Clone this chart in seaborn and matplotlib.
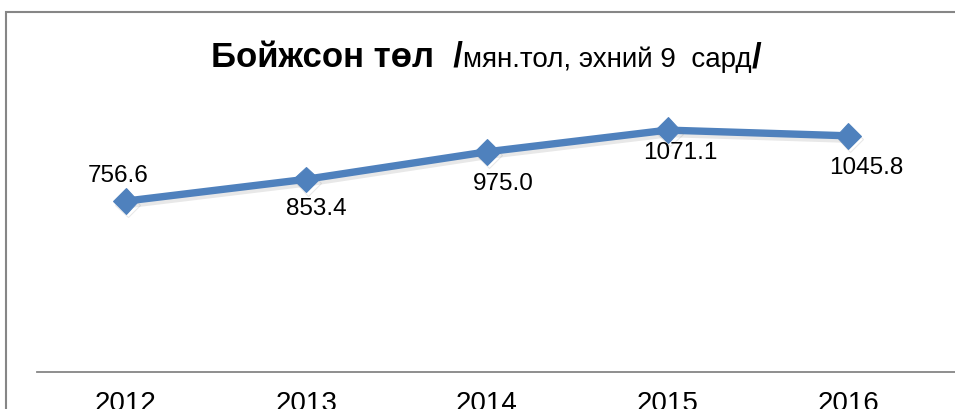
import matplotlib
matplotlib.use("Agg")
import matplotlib.pyplot as plt
import matplotlib.patheffects as pe
from matplotlib.patches import Rectangle
import seaborn as sns
import pandas as pd

# ____________________ данные ____________________
years = ["2012", "2013", "2014", "2015", "2016"]
values = [756.6, 853.4, 975.0, 1071.1, 1045.8]
value_labels = ["756.6", "853.4", "975.0", "1071.1", "1045.8"]

# смещения подписей (пиксели) относительно маркера
label_offsets = [(-7, 25), (10, -30), (16, -32), (13, -23), (18, -32)]

sns.set_theme(style="white")
plt.rcParams['font.family'] = ['Liberation Sans', 'DejaVu Sans']
plt.rcParams['text.color'] = 'black'

blue = "#4F81BD"
gray = "#868686"

df = pd.DataFrame({"year": years, "val": values})

fig = plt.figure(figsize=(9.55, 4.09), dpi=100)
ax = fig.add_axes([37 / 955, 37 / 409, (955 - 37) / 955, 271 / 409])

sns.lineplot(
    data=df, x="year", y="val", ax=ax,
    color=blue, linewidth=5.3,
    marker="D", markersize=13, markeredgecolor=blue,
    path_effects=[pe.SimpleLineShadow(offset=(1.5, -2.5), alpha=0.18, shadow_color="gray"), pe.Normal()],
)

for i, (v, txt) in enumerate(zip(values, value_labels)):
    dx, dy = label_offsets[i]
    ax.annotate(txt, xy=(i, v), xytext=(dx, dy), textcoords="offset pixels",
                ha="center", va="center", fontsize=17.5, color="black")

ax.set_xlim(-0.49, 4.59)
ax.set_ylim(0, 1200)
ax.set_xticks(range(len(years)))
ax.set_xticklabels(years, fontsize=20)
ax.tick_params(axis="x", length=0, pad=13.5, colors="black", labelcolor="black")
ax.set_yticks([])
ax.set_xlabel("")
ax.set_ylabel("")
for s in ["left", "right", "top"]:
    ax.spines[s].set_visible(False)
ax.spines["bottom"].set_color(gray)
ax.spines["bottom"].set_linewidth(1.3)
ax.grid(False)

# рамка диаграммы
fig.patches.append(Rectangle((6 / 955, -0.2), 1.2, (409 - 12) / 409 + 0.2,
                             transform=fig.transFigure, fill=False,
                             edgecolor=gray, linewidth=1.5))

# заголовок из нескольких частей
title_y = (409 - 67) / 409
parts = [("Бойжсон төл  /", "bold", 25),
         ("мян.тол, эхний 9  сард", "normal", 20),
         ("/", "bold", 25)]
fig.canvas.draw()
r = fig.canvas.get_renderer()
x = 211 / 955
for txt, w, fs in parts:
    t = fig.text(x, title_y, txt, fontsize=fs, fontweight=w, color="black",
                 ha="left", va="baseline")
    bb = t.get_window_extent(r)
    x = bb.x1 / fig.bbox.width

fig.savefig("out.png", dpi=100)
